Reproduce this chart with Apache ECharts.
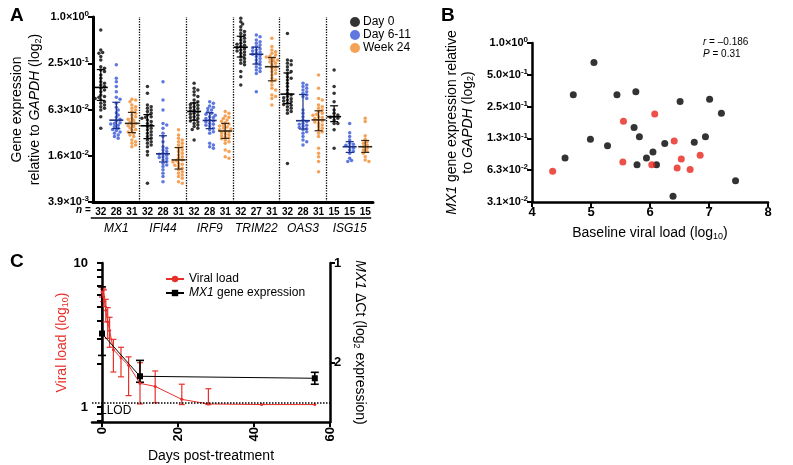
<!DOCTYPE html>
<html>
<head>
<meta charset="utf-8">
<script src="https://cdn.jsdelivr.net/npm/echarts@6/dist/echarts.min.js"></script>
<style>
html, body { margin: 0; padding: 0; background: #fff; }
#main { width: 793px; height: 465px; }
</style>
</head>
<body>
<div id="main"></div>
<script>
// ---- panel A: log2 of expression relative to GAPDH ----
var genes = ['MX1', 'IFI44', 'IRF9', 'TRIM22', 'OAS3', 'ISG15'];
var groupNames = ['Day 0', 'Day 6-11', 'Week 24'];
var nCounts = ['32', '28', '31', '32', '28', '31', '32', '28', '31', '32', '27', '31', '32', '28', '31', '15', '15', '15'];

var mx1D0 = [-0.56, -1.43, -1.54, -1.57, -1.71, -1.86, -2.15, -2.22, -2.29, -2.36, -2.51, -2.65, -2.8, -2.87, -2.94, -3.01, -3.08, -3.16, -3.23, -3.37, -3.44, -3.47, -3.52, -3.59, -3.66, -3.73, -3.8, -3.88, -3.95, -4.02, -4.31, -4.81];
var mx1D6 = [-2.07, -2.65, -2.8, -3.01, -3.23, -3.47, -3.56, -3.73, -3.9, -4.02, -4.14, -4.24, -4.34, -4.42, -4.5, -4.57, -4.6, -4.63, -4.68, -4.74, -4.81, -4.86, -4.91, -4.97, -5.03, -5.1, -5.17, -5.24];
var mx1W24 = [-3.56, -3.59, -3.66, -3.8, -3.88, -3.95, -4.02, -4.09, -4.16, -4.24, -4.31, -4.38, -4.42, -4.48, -4.54, -4.6, -4.64, -4.7, -4.74, -4.8, -4.86, -4.91, -4.97, -5.03, -5.1, -5.17, -5.32, -5.39, -5.46, -5.53, -5.61];

var ifi44D0 = [-3.01, -3.3, -3.8, -3.88, -3.95, -4.02, -4.09, -4.16, -4.24, -4.31, -4.34, -4.38, -4.45, -4.52, -4.6, -4.67, -4.74, -4.81, -4.88, -4.96, -5.03, -5.1, -5.17, -5.24, -5.32, -5.39, -5.46, -5.53, -5.61, -5.82, -5.97, -7.19];
var ifi44D6 = [-2.8, -3.59, -4.02, -4.6, -4.67, -4.81, -5.03, -5.17, -5.39, -5.61, -5.68, -5.75, -5.82, -5.89, -5.94, -5.98, -6.04, -6.08, -6.12, -6.18, -6.25, -6.33, -6.4, -6.47, -6.61, -6.76, -6.9, -7.12];
var ifi44W24 = [-4.88, -5.1, -5.24, -5.32, -5.39, -5.46, -5.53, -5.61, -5.68, -5.75, -5.82, -5.89, -5.97, -6.04, -6.11, -6.18, -6.22, -6.27, -6.33, -6.37, -6.41, -6.47, -6.54, -6.61, -6.69, -6.76, -6.83, -6.9, -6.97, -7.12, -7.19];

var irf9D0 = [-2.87, -3.08, -3.16, -3.23, -3.37, -3.44, -3.59, -3.66, -3.73, -3.78, -3.82, -3.88, -3.92, -3.96, -4.02, -4.06, -4.11, -4.16, -4.21, -4.25, -4.31, -4.35, -4.39, -4.45, -4.5, -4.54, -4.6, -4.67, -4.74, -4.81, -4.86, -5.32];
var irf9D6 = [-3.66, -3.73, -3.85, -3.9, -3.96, -4.02, -4.09, -4.16, -4.21, -4.25, -4.31, -4.35, -4.39, -4.45, -4.5, -4.54, -4.6, -4.64, -4.68, -4.74, -4.81, -4.88, -4.96, -5.03, -5.46, -5.53, -5.61, -5.68];
var irf9W24 = [-4.09, -4.16, -4.28, -4.34, -4.39, -4.45, -4.51, -4.57, -4.63, -4.67, -4.71, -4.76, -4.8, -4.84, -4.88, -4.93, -4.97, -5.01, -5.06, -5.1, -5.14, -5.19, -5.23, -5.27, -5.32, -5.39, -5.46, -5.75, -5.82, -6.04, -6.11];

var trim22D0 = [-0.05, -0.2, -0.3, -0.42, -0.56, -0.63, -0.71, -0.78, -0.85, -0.92, -0.99, -1.07, -1.14, -1.18, -1.22, -1.28, -1.33, -1.37, -1.43, -1.47, -1.51, -1.57, -1.64, -1.71, -1.79, -1.86, -1.93, -2.0, -2.07, -2.36, -2.58, -2.94];
var trim22D6 = [-0.78, -0.85, -0.99, -1.07, -1.14, -1.21, -1.28, -1.33, -1.37, -1.43, -1.47, -1.51, -1.57, -1.61, -1.66, -1.71, -1.79, -1.86, -1.93, -2.0, -2.07, -2.15, -2.22, -2.29, -2.36, -2.44, -3.23];
var trim22W24 = [-0.92, -1.28, -1.43, -1.5, -1.57, -1.64, -1.69, -1.73, -1.77, -1.82, -1.86, -1.9, -1.95, -2.0, -2.07, -2.15, -2.22, -2.29, -2.36, -2.44, -2.51, -2.65, -2.72, -2.8, -2.94, -3.08, -3.16, -3.37, -3.44, -3.52, -3.8];

var oas3D0 = [-0.71, -1.86, -1.89, -2.0, -2.07, -2.15, -2.29, -2.36, -2.44, -2.58, -2.65, -2.72, -2.87, -3.01, -3.16, -3.3, -3.37, -3.44, -3.49, -3.53, -3.59, -3.63, -3.67, -3.73, -3.78, -3.82, -3.88, -3.95, -4.02, -4.09, -4.16, -6.33];
var oas3D6 = [-2.87, -2.94, -3.01, -3.08, -3.16, -3.23, -3.3, -3.37, -3.44, -3.52, -4.02, -4.16, -4.31, -4.45, -4.52, -4.6, -4.64, -4.68, -4.74, -4.78, -4.83, -4.88, -4.96, -5.03, -5.17, -5.32, -5.39, -5.53];
var oas3W24 = [-2.51, -3.08, -3.52, -3.59, -3.8, -3.88, -3.95, -4.02, -4.09, -4.16, -4.21, -4.25, -4.31, -4.35, -4.39, -4.45, -4.5, -4.54, -4.6, -4.67, -4.74, -4.81, -4.88, -4.96, -5.03, -5.17, -5.68, -5.89, -6.04, -6.25, -6.69];

var isg15D0 = [-2.29, -3.01, -3.3, -3.66, -4.02, -4.16, -4.24, -4.31, -4.34, -4.38, -4.45, -4.6, -4.6, -4.88, -5.68];
var isg15D6 = [-4.6, -5.0, -5.17, -5.32, -5.46, -5.5, -5.55, -5.61, -5.68, -5.75, -5.82, -5.89, -6.11, -6.21, -6.25];
var isg15W24 = [-4.38, -4.52, -5.14, -5.29, -5.39, -5.46, -5.53, -5.61, -5.68, -5.75, -5.82, -5.89, -6.04, -6.18, -6.25];

var panelA = [
    [mx1D0, mx1D6, mx1W24],
    [ifi44D0, ifi44D6, ifi44W24],
    [irf9D0, irf9D6, irf9W24],
    [trim22D0, trim22D6, trim22W24],
    [oas3D0, oas3D6, oas3W24],
    [isg15D0, isg15D6, isg15W24]
];
var aTickExp = [-8, -6, -4, -2, 0];
var aTickLabels = ['3.9×10{s|-3}', '1.6×10{s|-2}', '6.3×10{s|-2}', '2.5×10{s|-1}', '1.0×10{s|0}'];

// ---- panel B ----
var bBlackLoad = [5.05, 4.70, 5.44, 5.76, 6.51, 7.01, 7.21, 5.73, 4.99, 5.28, 5.82, 4.56, 5.78, 5.94, 6.05, 6.11, 6.25, 6.75, 6.94, 7.45, 6.39];
var bBlackMx1 = [-0.61, -1.63, -1.63, -1.53, -1.84, -1.77, -2.21, -2.66, -3.03, -3.23, -2.95, -3.62, -3.83, -3.62, -3.43, -3.83, -3.16, -3.12, -2.95, -4.33, -4.82];
var bRedLoad = [4.35, 5.55, 6.08, 5.54, 6.03, 6.41, 6.46, 6.53, 6.68, 6.85];
var bRedMx1 = [-4.03, -2.46, -2.23, -3.74, -3.83, -3.08, -3.93, -3.65, -3.98, -3.53];
var bTickExp = [-5, -4, -3, -2, -1, 0];
var bTickLabels = ['3.1×10{s|-2}', '6.3×10{s|-2}', '1.3×10{s|-1}', '2.5×10{s|-1}', '5.0×10{s|-1}', '1.0×10{s|0}'];

// ---- panel C ----
var vlDays = [0, 0.3, 0.5, 1, 1.5, 2, 3, 5, 7, 10, 14, 21, 28, 42, 56];
var vlMean = [6.3, 6.0, 5.8, 4.7, 3.9, 3.4, 2.5, 2.2, 1.95, 1.46, 1.39, 1.13, 1.05, 1.04, 1.04];
var vlLow = [5.8, 5.4, 5.0, 3.9, 3.0, 2.6, 1.75, 1.62, 1.2, 1.05, 1.07, 1.04, 1.04, null, null];
var vlHigh = [6.8, 6.6, 6.5, 5.6, 4.9, 4.2, 2.95, 2.6, 2.23, 2.03, 1.78, 1.44, 1.34, null, null];
var mxDays = [0, 10, 56];
var mxMean = [1.71, 2.14, 2.16];
var mxLow = [1.24, 1.98, 2.10];
var mxHigh = [1.93, 2.2, 2.22];
var llod = 1.067;

var FONT = 'Liberation Sans, Arial, sans-serif';
var dotColors = ['#000000', '#3656d8', '#f28b2c'];
var barColors = ['#000000', '#1c2f86', '#3a2812'];

function quant(s, p) {
    var pos = (s.length - 1) * p, lo = Math.floor(pos), hi = Math.ceil(pos);
    return s[lo] + (s[hi] - s[lo]) * (pos - lo);
}

// simple beeswarm so dots do not sit on top of each other
function swarm(vals, cx) {
    var placed = [];
    var sorted = vals.slice().sort(function (a, b) { return b - a; });
    var offs = [0, 0.12, -0.12, 0.24, -0.24, 0.36, -0.36];
    sorted.forEach(function (e) {
        var best = 0, bestD = -1;
        for (var k = 0; k < offs.length; k++) {
            var minD = 99;
            placed.forEach(function (p) {
                var dx = (cx + offs[k] - p[0]) * 15.5, dy = (e - p[1]) * 23.1;
                minD = Math.min(minD, Math.sqrt(dx * dx + dy * dy));
            });
            if (minD >= 2.9) { best = offs[k]; bestD = 99; break; }
            if (minD > bestD) { bestD = minD; best = offs[k]; }
        }
        placed.push([cx + best, e]);
    });
    return placed;
}

var scatterA = [[], [], []];
var barsA = [];
panelA.forEach(function (gene, i) {
    gene.forEach(function (vals, g) {
        var cx = 3 * i + g + 0.5;
        swarm(vals, cx).forEach(function (p) {
            scatterA[g].push([p[0], Math.pow(2, p[1])]);
        });
        var s = vals.slice().sort(function (a, b) { return a - b; });
        barsA.push([cx, Math.pow(2, quant(s, 0.5)), Math.pow(2, quant(s, 0.25)), Math.pow(2, quant(s, 0.75)), g]);
    });
});

function tickFormatter(exps, labels) {
    return function (v) {
        var i = exps.indexOf(Math.round(Math.log2(v)));
        return i < 0 ? '' : labels[i];
    };
}

var supRich = { s: { fontSize: 8, fontWeight: 'bold', fontFamily: FONT, color: '#000', verticalAlign: 'top', padding: [0, 0, 6, 0] } };
var nameRich = {
    i: { fontStyle: 'italic', fontSize: 14, fontFamily: FONT, color: '#000' },
    sub: { fontSize: 9, fontFamily: FONT, color: '#000', padding: [6, 0, 0, 0] }
};

function errRender(color, cap, lw) {
    return function (params, api) {
        var x = api.value(0);
        var lo = api.coord([x, api.value(1)]);
        var hi = api.coord([x, api.value(2)]);
        return {
            type: 'group', children: [
                { type: 'line', shape: { x1: lo[0], y1: lo[1], x2: hi[0], y2: hi[1] }, style: { stroke: color, lineWidth: lw } },
                { type: 'line', shape: { x1: lo[0] - cap, y1: lo[1], x2: lo[0] + cap, y2: lo[1] }, style: { stroke: color, lineWidth: lw } },
                { type: 'line', shape: { x1: hi[0] - cap, y1: hi[1], x2: hi[0] + cap, y2: hi[1] }, style: { stroke: color, lineWidth: lw } }
            ]
        };
    };
}

var vlErr = [];
vlDays.forEach(function (d, i) { if (vlLow[i] != null) vlErr.push([d, vlLow[i], vlHigh[i]]); });
var mxErr = mxDays.map(function (d, i) { return [d, mxLow[i], mxHigh[i]]; });

var chart = echarts.init(document.getElementById('main'));
var option = {
    animation: false,
    textStyle: { fontFamily: FONT },
    grid: [
        { left: 93, top: 17, width: 280, height: 185 },
        { left: 532, top: 43, width: 236, height: 159 },
        { left: 92, top: 263, width: 238, height: 159 }
    ],
    legend: [{
        data: groupNames, orient: 'vertical', left: 345, top: 11, itemGap: 1,
        itemWidth: 10, itemHeight: 10, icon: 'circle',
        textStyle: { fontSize: 12, color: '#000', padding: [0, 0, 0, -2] }
    }, {
        data: ['Viral load', 'MX1 gene expression'], orient: 'vertical', left: 160, top: 268, itemGap: 2,
        itemWidth: 18, itemHeight: 8,
        formatter: function (n) { return n === 'MX1 gene expression' ? '{i|MX1} gene expression' : n; },
        textStyle: { fontSize: 12, color: '#000', rich: { i: { fontStyle: 'italic', fontSize: 12, fontFamily: FONT } } }
    }],
    xAxis: [
        { gridIndex: 0, type: 'value', min: 0, max: 18, show: false },
        {
            gridIndex: 0, type: 'category', data: nCounts, position: 'bottom',
            axisLine: { lineStyle: { color: '#000', width: 3 } }, axisTick: { show: false },
            axisLabel: { interval: 0, fontSize: 10, fontWeight: 'bold', color: '#000', margin: 5 }
        },
        {
            gridIndex: 0, type: 'category', data: genes, position: 'bottom', offset: 18,
            axisLine: { show: false }, axisTick: { show: false },
            axisLabel: { interval: 0, fontSize: 12, fontStyle: 'italic', color: '#000', margin: 3 }
        },
        {
            gridIndex: 1, type: 'value', min: 4, max: 8, interval: 1,
            axisLine: { lineStyle: { color: '#000', width: 2.5 } },
            axisTick: { length: 5, lineStyle: { width: 2 } }, splitLine: { show: false },
            axisLabel: { fontSize: 13, fontWeight: 'bold', color: '#000', margin: 4 },
            name: 'Baseline viral load (log{sub|10})', nameLocation: 'middle', nameGap: 24,
            nameTextStyle: { fontSize: 14, color: '#000', rich: nameRich }
        },
        {
            gridIndex: 2, type: 'value', min: -2.63, max: 60,
            axisLine: { lineStyle: { color: '#000', width: 2.5 } },
            axisTick: { length: 5, lineStyle: { width: 2 }, customValues: [0, 20, 40, 60] },
            splitLine: { show: false },
            axisLabel: { customValues: [0, 20, 40, 60], rotate: 90, fontSize: 13, fontWeight: 'bold', color: '#000', margin: 5 },
            name: 'Days post-treatment', nameLocation: 'middle', nameGap: 27,
            nameTextStyle: { fontSize: 14, color: '#000' }
        }
    ],
    yAxis: [
        {
            gridIndex: 0, type: 'log', logBase: 2, min: Math.pow(2, -8), max: 1,
            axisLine: { show: true, lineStyle: { color: '#000', width: 3 } },
            axisTick: { show: true, length: 5, lineStyle: { width: 2 }, customValues: aTickExp.map(function (e) { return Math.pow(2, e); }) },
            splitLine: { show: false },
            axisLabel: {
                customValues: aTickExp.map(function (e) { return Math.pow(2, e); }),
                formatter: tickFormatter(aTickExp, aTickLabels),
                fontSize: 11, fontWeight: 'bold', color: '#000', margin: 4, rich: supRich
            },
            name: 'Gene expression\nrelative to {i|GAPDH} (log{sub|2})', nameLocation: 'middle', nameGap: 46,
            nameTextStyle: { fontSize: 14, lineHeight: 18, color: '#000', rich: nameRich }
        },
        {
            gridIndex: 1, type: 'log', logBase: 2, min: Math.pow(2, -5), max: 1,
            axisLine: { show: true, lineStyle: { color: '#000', width: 2.5 } },
            axisTick: { show: true, length: 5, lineStyle: { width: 2 }, customValues: bTickExp.map(function (e) { return Math.pow(2, e); }) },
            splitLine: { show: false },
            axisLabel: {
                customValues: bTickExp.map(function (e) { return Math.pow(2, e); }),
                formatter: tickFormatter(bTickExp, bTickLabels),
                fontSize: 11, fontWeight: 'bold', color: '#000', margin: 4, rich: supRich
            },
            name: '{i|MX1} gene expression relative\nto {i|GAPDH} (log{sub|2})', nameLocation: 'middle', nameGap: 56,
            nameTextStyle: { fontSize: 14, lineHeight: 16, color: '#000', rich: nameRich }
        },
        {
            gridIndex: 2, type: 'log', logBase: 10, min: 0.787, max: 10, position: 'left',
            axisLine: { show: true, lineStyle: { color: '#000', width: 2.5 } },
            axisTick: { show: true, length: 5, lineStyle: { width: 2 }, customValues: [0.8, 0.9, 1, 2, 3, 4, 5, 6, 7, 8, 9, 10] },
            splitLine: { show: false },
            axisLabel: { customValues: [1, 10], fontSize: 13, fontWeight: 'bold', color: '#000', margin: 4 },
            name: 'Viral load (log{sub|10})', nameLocation: 'middle', nameGap: 22,
            nameTextStyle: { fontSize: 14, color: '#e8302a', rich: { sub: { fontSize: 9, color: '#e8302a', padding: [6, 0, 0, 0] } } }
        },
        {
            gridIndex: 2, type: 'value', min: 1, max: 2.6, inverse: true, position: 'right',
            axisLine: { show: true, lineStyle: { color: '#000', width: 2.5 } },
            axisTick: { show: true, length: 5, lineStyle: { width: 2 }, customValues: [1, 2] },
            splitLine: { show: false },
            axisLabel: { customValues: [1, 2], fontSize: 13, fontWeight: 'bold', color: '#000', margin: 4 },
            name: '{i|MX1} ΔCt (log{sub|2} expression)', nameLocation: 'middle', nameGap: 22, nameRotate: -90,
            nameTextStyle: { fontSize: 14, color: '#000', rich: nameRich }
        }
    ],
    series: [
        {
            name: groupNames[0], type: 'scatter', xAxisIndex: 0, yAxisIndex: 0, data: scatterA[0],
            symbolSize: 3.5, itemStyle: { color: dotColors[0] }
        },
        {
            name: groupNames[1], type: 'scatter', xAxisIndex: 0, yAxisIndex: 0, data: scatterA[1],
            symbolSize: 3.5, itemStyle: { color: dotColors[1] }
        },
        {
            name: groupNames[2], type: 'scatter', xAxisIndex: 0, yAxisIndex: 0, data: scatterA[2],
            symbolSize: 3.5, itemStyle: { color: dotColors[2] },
            markLine: {
                silent: true, symbol: 'none', label: { show: false },
                lineStyle: { color: '#000', type: 'dotted', width: 1.3 },
                data: [{ xAxis: 3 }, { xAxis: 6 }, { xAxis: 9 }, { xAxis: 12 }, { xAxis: 15 }]
            }
        },
        {
            type: 'custom', xAxisIndex: 0, yAxisIndex: 0, data: barsA, z: 5,
            encode: { x: 0, y: [1, 2, 3] },
            renderItem: function (params, api) {
                var x = api.value(0);
                var m = api.coord([x, api.value(1)]);
                var lo = api.coord([x, api.value(2)]);
                var hi = api.coord([x, api.value(3)]);
                var c = barColors[api.value(4)];
                return {
                    type: 'group', children: [
                        { type: 'line', shape: { x1: m[0] - 7, y1: m[1], x2: m[0] + 7, y2: m[1] }, style: { stroke: c, lineWidth: 1.6 } },
                        { type: 'line', shape: { x1: lo[0], y1: lo[1], x2: hi[0], y2: hi[1] }, style: { stroke: c, lineWidth: 1.2 } },
                        { type: 'line', shape: { x1: lo[0] - 4, y1: lo[1], x2: lo[0] + 4, y2: lo[1] }, style: { stroke: c, lineWidth: 1.2 } },
                        { type: 'line', shape: { x1: hi[0] - 4, y1: hi[1], x2: hi[0] + 4, y2: hi[1] }, style: { stroke: c, lineWidth: 1.2 } }
                    ]
                };
            }
        },
        {
            type: 'scatter', xAxisIndex: 3, yAxisIndex: 1, symbolSize: 7,
            itemStyle: { color: '#000' },
            data: bBlackLoad.map(function (x, i) { return [x, Math.pow(2, bBlackMx1[i])]; })
        },
        {
            type: 'scatter', xAxisIndex: 3, yAxisIndex: 1, symbolSize: 7,
            itemStyle: { color: '#e8231c' },
            data: bRedLoad.map(function (x, i) { return [x, Math.pow(2, bRedMx1[i])]; })
        },
        {
            name: 'Viral load', type: 'line', xAxisIndex: 4, yAxisIndex: 2,
            data: vlDays.map(function (d, i) { return [d, vlMean[i]]; }),
            symbol: 'circle', symbolSize: 3, lineStyle: { color: '#e8302a', width: 1 },
            itemStyle: { color: '#e8302a' },
            markLine: {
                silent: true, symbol: 'none',
                lineStyle: { color: '#000', type: 'dotted', width: 1.5 },
                label: { show: true, position: 'insideStartBottom', formatter: 'LLOD', color: '#000', fontSize: 12, distance: [8, 2] },
                data: [{ yAxis: llod }]
            }
        },
        {
            type: 'custom', xAxisIndex: 4, yAxisIndex: 2, data: vlErr,
            encode: { x: 0, y: [1, 2] }, renderItem: errRender('#e8302a', 3, 1.2)
        },
        {
            name: 'MX1 gene expression', type: 'line', xAxisIndex: 4, yAxisIndex: 3,
            data: mxDays.map(function (d, i) { return [d, mxMean[i]]; }),
            symbol: 'rect', symbolSize: 6, lineStyle: { color: '#000', width: 1 },
            itemStyle: { color: '#000' }, z: 3
        },
        {
            type: 'custom', xAxisIndex: 4, yAxisIndex: 3, data: mxErr, z: 3,
            encode: { x: 0, y: [1, 2] }, renderItem: errRender('#000', 4, 1.6)
        }
    ],
    graphic: [
        { type: 'text', left: 10, top: 6, style: { text: 'A', font: 'bold 19px ' + FONT, fill: '#000' } },
        { type: 'text', left: 441, top: 6, style: { text: 'B', font: 'bold 19px ' + FONT, fill: '#000' } },
        { type: 'text', left: 10, top: 252, style: { text: 'C', font: 'bold 19px ' + FONT, fill: '#000' } },
        {
            type: 'text', left: 76, top: 205,
            style: { text: '{i|n} =', font: 'bold 10px ' + FONT, fill: '#000', rich: { i: { fontStyle: 'italic', fontWeight: 'bold', fontSize: 10, fontFamily: FONT } } }
        },
        {
            type: 'text', left: 703, top: 36,
            style: { text: '{i|r} = –0.186\n{i|P} = 0.31', font: '10px ' + FONT, lineHeight: 12, fill: '#000', rich: { i: { fontStyle: 'italic', fontSize: 10, fontFamily: FONT } } }
        }
    ]
};
chart.setOption(option);

// short rules under each gene's n values
var lines = genes.map(function (g, i) {
    var x1 = chart.convertToPixel({ xAxisIndex: 0 }, 3 * i + 0.05) - 3;
    var x2 = chart.convertToPixel({ xAxisIndex: 0 }, 3 * i + 2.95) - 1;
    return { type: 'line', shape: { x1: x1, y1: 218, x2: x2, y2: 218 }, style: { stroke: '#000', lineWidth: 1.5 } };
});
chart.setOption({ graphic: option.graphic.concat(lines) });
</script>
</body>
</html>
